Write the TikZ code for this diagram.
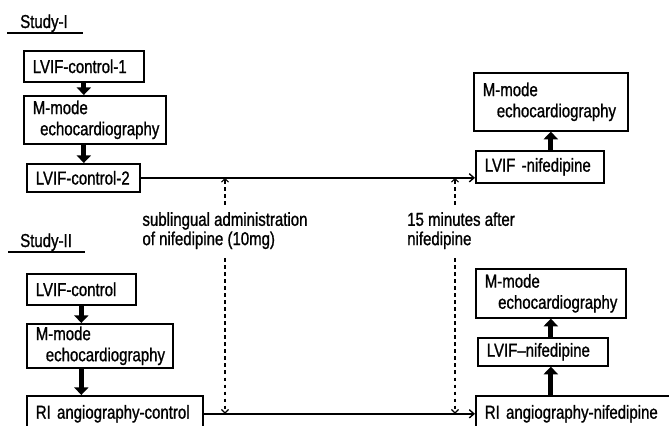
\documentclass[tikz,border=0pt]{standalone}
\usepackage{fontspec}
\setmainfont{Liberation Sans}[FakeStretch=0.8, FakeBold=1]
\usetikzlibrary{arrows.meta}

\tikzset{
  box/.style={draw, line width=1.4pt, anchor=north west, inner xsep=0.27cm, inner ysep=0pt, align=left},
  note/.style={align=left, inner sep=0pt, font=\fontsize{16}{16.5}\selectfont},
  bigarrow/.style={line width=4.2pt, -{Triangle[width=12pt,length=6.5pt]}},
  flow/.style={line width=1.2pt, -{Straight Barb[length=4pt,width=7pt]}},
  waitarrow/.style={dashed, line width=1pt, -{Straight Barb[length=3pt,width=6pt]}},
}

\begin{document}
\begin{tikzpicture}[x=0.03cm, y=-0.03cm, font=\fontsize{16}{18}\selectfont]
        \clip (0,0) rectangle (669,426);

        % Study-I
        \node[note, anchor=base west] (studyA) at (20,28) {Study-I};
        \draw[line width=1.2pt] (7,33) -- (83,33);
        \node[box, text width=3.06cm, minimum height=0.93cm] (ctrlA) at (23,50) {LVIF-control-1};
        \node[box, text width=3.72cm, minimum height=1.44cm] (echoA) at (23,95) {\mbox{M-mode}\\\mbox{\hspace*{0.22cm}echocardiography}};
        \node[box, text width=2.85cm, minimum height=0.84cm] (ctrl2A) at (26,163) {LVIF-control-2};
        \node[box, text width=4.08cm, minimum height=1.74cm] (echoB) at (473,72) {\mbox{M-mode}\\\mbox{\hspace*{0.42cm}echocardiography}};
        \node[box, text width=3.3cm, minimum height=0.96cm] (nifA) at (475,150) {LVIF -nifedipine};

        \draw[bigarrow] (ctrlA.south) -- (ctrlA.south |- echoA.north);
        \draw[bigarrow] (ctrlA.south |- echoA.south) -- (ctrlA.south |- ctrl2A.north);
        \draw[bigarrow] (echoB.south |- nifA.north) -- (echoB.south);
        \draw[flow] (ctrl2A.east) -- (ctrl2A.east -| nifA.west);

        % timing notes
        \node[note, anchor=north] (subl) at (225,212) {sublingual administration\\of nifedipine (10mg)};
        \node[note, anchor=north west] (after) at (407,212) {15 minutes after\\nifedipine};
        \coordinate (sTop) at (225,205);
        \coordinate (sBot) at (225,258);
        \coordinate (aTop) at (455,205);
        \coordinate (aBot) at (455,258);

        % Study-II
        \node[note, anchor=base west] (studyB) at (20,247) {Study-II};
        \draw[line width=1.2pt] (8,252) -- (85,252);
        \node[box, text width=2.73cm, minimum height=0.93cm] (ctrlB) at (26,273) {LVIF-control};
        \node[box, text width=3.84cm, minimum height=1.32cm] (echoC) at (26,323) {\mbox{M-mode}\\\mbox{\hspace*{0.3cm}echocardiography}};
        \node[box, text width=4.74cm, minimum height=1.08cm] (riA) at (26,395) {RI angiography-control};
        \node[box, text width=3.96cm, minimum height=1.47cm] (echoD) at (475,268) {\mbox{M-mode}\\\mbox{\hspace*{0.4cm}echocardiography}};
        \node[box, text width=3.36cm, minimum height=0.84cm] (nifB) at (477,337) {LVIF--nifedipine};
        \node[box, text width=5.46cm, minimum height=1.08cm] (riB) at (475,395) {\mbox{RI angiography-nifedipine}};

        \draw[bigarrow] (ctrlB.south) -- (ctrlB.south |- echoC.north);
        \draw[bigarrow] (ctrlB.south |- echoC.south) -- (ctrlB.south |- riA.north);
        \draw[bigarrow] (echoD.south |- riB.north) -- (echoD.south |- nifB.south);
        \draw[bigarrow] (echoD.south |- nifB.north) -- (echoD.south);
        \draw[flow] (riA.east) -- (riA.east -| riB.west);

        \draw[waitarrow] (sTop) -- (sTop |- ctrl2A.east);
        \draw[waitarrow] (sBot) -- (sBot |- riA.east);
        \draw[waitarrow] (aTop) -- (aTop |- ctrl2A.east);
        \draw[waitarrow] (aBot) -- (aBot |- riA.east);
\end{tikzpicture}
\end{document}
